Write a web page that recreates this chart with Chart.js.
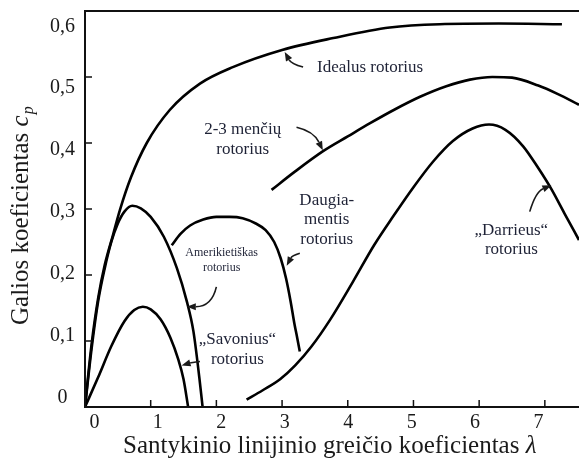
<!DOCTYPE html>
<html>
<head>
<meta charset="utf-8">
<script src="https://cdn.jsdelivr.net/npm/chart.js@4.4.0/dist/chart.umd.min.js"></script>
<style>
  html, body { margin: 0; padding: 0; background: #fff; }
</style>
</head>
<body>
<canvas id="cp-chart" width="579" height="460"></canvas>
<script>
// values (lambda = tip speed ratio, cp = power coefficient)
const idealLambda = [0, 0.03, 0.1, 0.2, 0.3, 0.43, 0.53, 0.7, 0.94, 1.29, 1.75, 2.25, 3.0, 3.78, 4.64, 5.4, 6.3, 7.26];
const idealCp     = [0, 0.03, 0.095, 0.165, 0.215, 0.262, 0.298, 0.348, 0.40, 0.45, 0.49, 0.515, 0.541, 0.559, 0.575, 0.580, 0.581, 0.580];

const bladesLambda = [2.84, 3.2, 3.63, 4.0, 4.34, 4.7, 5.1, 5.5, 5.86, 6.2, 6.5, 6.9, 7.2, 7.52];
const bladesCp     = [0.329, 0.357, 0.388, 0.41, 0.43, 0.45, 0.47, 0.486, 0.496, 0.5, 0.499, 0.487, 0.474, 0.458];

const darrieusLambda = [2.46, 2.7, 2.97, 3.2, 3.45, 3.73, 4.08, 4.4, 4.7, 5.0, 5.3, 5.6, 5.9, 6.15, 6.4, 6.67, 6.9, 7.1, 7.3, 7.52];
const darrieusCp     = [0.011, 0.025, 0.042, 0.063, 0.092, 0.132, 0.19, 0.245, 0.29, 0.333, 0.372, 0.403, 0.422, 0.428, 0.42, 0.395, 0.362, 0.33, 0.293, 0.253];

const multiLambda = [1.32, 1.45, 1.6, 1.8, 2.0, 2.2, 2.4, 2.6, 2.75, 2.88, 2.98, 3.06, 3.13, 3.19, 3.23, 3.27];
const multiCp     = [0.245, 0.262, 0.275, 0.284, 0.288, 0.288, 0.286, 0.278, 0.268, 0.25, 0.225, 0.195, 0.16, 0.125, 0.105, 0.084];

const americanLambda = [0, 0.1, 0.2, 0.3, 0.4, 0.5, 0.6, 0.72, 0.85, 1.0, 1.2, 1.4, 1.55, 1.65, 1.74, 1.79];
const americanCp     = [0, 0.088, 0.16, 0.21, 0.25, 0.278, 0.296, 0.305, 0.301, 0.288, 0.258, 0.21, 0.16, 0.115, 0.045, 0];

const savoniusLambda = [0, 0.2, 0.4, 0.6, 0.75, 0.88, 1.0, 1.15, 1.3, 1.42, 1.5, 1.57];
const savoniusCp     = [0, 0.045, 0.092, 0.13, 0.147, 0.152, 0.148, 0.133, 0.105, 0.072, 0.042, 0];

const xTickLabels = ['0', '1', '2', '3', '4', '5', '6', '7'];
const yTickLabels = ['0', '0,1', '0,2', '0,3', '0,4', '0,5', '0,6'];

// curve names and where they sit (lambda, cp of the first text line)
const labelLines = [
    ['Idealus rotorius'],
    ['2-3 menčių', 'rotorius'],
    ['Amerikietiškas', 'rotorius'],
    ['Daugia-', 'mentis', 'rotorius'],
    ['\u201ESavonius\u201C', 'rotorius'],
    ['\u201EDarrieus\u201C', 'rotorius']
];
const labelAt = [[4.34, 0.514], [2.40, 0.420], [2.08, 0.233], [3.68, 0.313], [2.32, 0.102], [6.49, 0.268]];

// pointer arrows: start, bend, tip (lambda, cp)
const arrowFrom = [[3.32, 0.515], [3.22, 0.424], [2.00, 0.182], [3.27, 0.233], [1.75, 0.069], [6.77, 0.296]];
const arrowBend = [[3.14, 0.520], [3.48, 0.418], [1.93, 0.152], [3.15, 0.229], [1.61, 0.067], [6.86, 0.326]];
const arrowTip  = [[3.04, 0.538], [3.62, 0.389], [1.55, 0.152], [3.07, 0.214], [1.47, 0.063], [7.10, 0.336]];

const toPoints = (xs, ys) => xs.map((v, i) => ({ x: v, y: ys[i] }));

function curve(xs, ys) {
    return {
        data: toPoints(xs, ys),
        showLine: true,
        borderColor: '#000',
        borderWidth: 2.6,
        pointRadius: 0,
        cubicInterpolationMode: 'monotone'
    };
}

const serif = '"Liberation Serif", "Times New Roman", serif';

const decor = {
    id: 'decor',
    afterDraw(chart) {
        const { ctx, chartArea: a, scales: { x, y } } = chart;
        ctx.save();

        // frame
        ctx.strokeStyle = '#111';
        ctx.lineWidth = 2;
        ctx.beginPath();
        ctx.moveTo(a.right, a.top);
        ctx.lineTo(a.left, a.top);
        ctx.lineTo(a.left, a.bottom);
        ctx.lineTo(a.right, a.bottom);
        ctx.stroke();

        // inward tick marks
        ctx.lineWidth = 1.5;
        ctx.beginPath();
        x.ticks.forEach(t => {
            if (t.value === 0) return;
            const px = x.getPixelForValue(t.value);
            ctx.moveTo(px, a.bottom);
            ctx.lineTo(px, a.bottom - 7);
        });
        y.ticks.forEach(t => {
            if (t.value === 0 || t.value >= 0.6) return;
            const py = y.getPixelForValue(t.value);
            ctx.moveTo(a.left, py);
            ctx.lineTo(a.left + 7, py);
        });
        ctx.stroke();

        // arrows
        ctx.strokeStyle = '#1a1a1a';
        ctx.fillStyle = '#1a1a1a';
        ctx.lineWidth = 1.6;
        arrowFrom.forEach((f, i) => {
            const sx = x.getPixelForValue(f[0]), sy = y.getPixelForValue(f[1]);
            const cx = x.getPixelForValue(arrowBend[i][0]), cy = y.getPixelForValue(arrowBend[i][1]);
            const tx = x.getPixelForValue(arrowTip[i][0]), ty = y.getPixelForValue(arrowTip[i][1]);
            const ang = Math.atan2(ty - cy, tx - cx);
            const len = 9;
            const bx = tx - Math.cos(ang) * len, by = ty - Math.sin(ang) * len;
            ctx.beginPath();
            ctx.moveTo(sx, sy);
            ctx.quadraticCurveTo(cx, cy, bx, by);
            ctx.stroke();
            ctx.beginPath();
            ctx.moveTo(tx, ty);
            ctx.lineTo(bx + Math.sin(ang) * 3.5, by - Math.cos(ang) * 3.5);
            ctx.lineTo(bx - Math.sin(ang) * 3.5, by + Math.cos(ang) * 3.5);
            ctx.closePath();
            ctx.fill();
        });

        // curve names
        ctx.fillStyle = '#1e2236';
        ctx.textAlign = 'center';
        ctx.textBaseline = 'middle';
        labelLines.forEach((lines, i) => {
            const small = i === 2;
            ctx.font = (small ? '12px ' : '17px ') + serif;
            const step = small ? 15 : 19.5;
            const px = x.getPixelForValue(labelAt[i][0]);
            const py = y.getPixelForValue(labelAt[i][1]);
            lines.forEach((t, j) => ctx.fillText(t, px, py + j * step));
        });

        // axis titles
        ctx.fillStyle = '#1a1a1a';
        ctx.textAlign = 'left';
        ctx.textBaseline = 'alphabetic';
        ctx.font = '25px ' + serif;
        const xt = 'Santykinio linijinio greičio koeficientas ';
        ctx.fillText(xt, 123, 453);
        const xw = ctx.measureText(xt).width;
        ctx.font = 'italic 25px ' + serif;
        ctx.fillText('\u03BB', 123 + xw, 453);

        ctx.translate(28, 325);
        ctx.rotate(-Math.PI / 2);
        ctx.font = '25px ' + serif;
        const yt = 'Galios koeficientas ';
        ctx.fillText(yt, 0, 0);
        let w = ctx.measureText(yt).width;
        ctx.font = 'italic 25px ' + serif;
        ctx.fillText('c', w, 0);
        w += ctx.measureText('c').width;
        ctx.font = 'italic 16px ' + serif;
        ctx.fillText('p', w + 1, 5);

        ctx.restore();
    }
};

new Chart(document.getElementById('cp-chart'), {
    type: 'scatter',
    data: {
        datasets: [
            curve(idealLambda, idealCp),
            curve(bladesLambda, bladesCp),
            curve(darrieusLambda, darrieusCp),
            curve(multiLambda, multiCp),
            curve(americanLambda, americanCp),
            curve(savoniusLambda, savoniusCp)
        ]
    },
    options: {
        responsive: false,
        animation: false,
        events: [],
        layout: { padding: { top: 11, right: 0, bottom: 0, left: 0 } },
        plugins: { legend: { display: false }, tooltip: { enabled: false } },
        scales: {
            x: {
                type: 'linear', min: 0, max: 7.52, display: false,
                ticks: { stepSize: 1, includeBounds: false }
            },
            y: {
                type: 'linear', min: 0, max: 0.6, display: false,
                ticks: { stepSize: 0.1, includeBounds: false }
            },
            // label-only axes, slightly squeezed like the printed scale
            xLab: {
                type: 'linear', position: 'bottom', min: -0.148, max: 7.637,
                grid: { display: false, drawTicks: false },
                border: { display: false },
                ticks: {
                    stepSize: 1, includeBounds: false, padding: 4, maxRotation: 0,
                    color: '#1a1a1a', font: { family: serif, size: 20 },
                    callback: v => xTickLabels[Math.round(v)] ?? ''
                },
                afterFit: s => { s.height = 53; s.paddingLeft = 0; s.paddingRight = 0; }
            },
            yLab: {
                type: 'linear', position: 'left', min: -0.0157, max: 0.6248,
                grid: { display: false, drawTicks: false },
                border: { display: false },
                ticks: {
                    stepSize: 0.1, includeBounds: false, padding: 10, crossAlign: 'center',
                    color: '#1a1a1a', font: { family: serif, size: 20 },
                    callback: v => yTickLabels[Math.round(v * 10)] ?? ''
                },
                afterFit: s => { s.width = 85; s.paddingTop = 0; s.paddingBottom = 0; }
            }
        }
    },
    plugins: [decor]
});
</script>
</body>
</html>
